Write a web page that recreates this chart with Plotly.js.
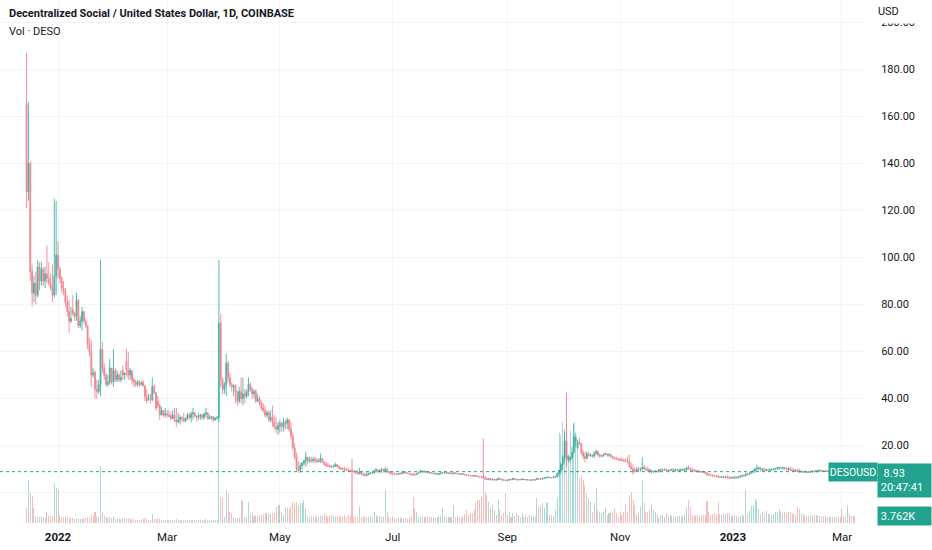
<!DOCTYPE html>
<html>
<head>
<meta charset="utf-8">
<script src="https://cdn.plot.ly/plotly-3.0.1.min.js"></script>
<style>
  html, body { margin: 0; padding: 0; background: #fff; }
  #chart { width: 932px; height: 550px; }
</style>
</head>
<body>
<div id="chart"></div>
<script>
// daily candles, [open, high, low, close, volume (K)]
const dec21 = [[165,187,121,128,8.6],[128,166,124,140,24.7],[140,141,90,94,17.2],[94,97,79,85,15.5],[85,92,81,89,8.6],[89,94,80,84,4.0],[84,99,83,96,3.4],[96,98,86,90,3.4],[90,98,88,95,3.4],[95,96,88,90,3.4],[90,96,87,93,3.0],[93,105,89,91,6.3],[91,98,88,89,4.0],[89,93,86,87,4.0],[87,97,81,84,4.0],[84,125,83,92,23.0],[92,124,84,101,20.0]];
const jan22 = [[101,107,91,95,18.9],[95,96,89,91,4.6],[91,92,85,87,3.4],[87,90,84,86,3.4],[86,87,79,81,3.4],[81,84,75,77,3.4],[77,82,68,73,2.9],[73,79,72,74,2.9],[78,84,75,76,2.9],[76,77,73,75,2.3],[75,85,73,82,2.3],[82,82,70,71,2.9],[71,75,70,73,2.3],[73,79,69,77,2.3],[77,77,72,73,2.9],[73,74,70,71,2.9],[71,71,61,63,2.9],[63,66,58,60,3.4],[60,65,45,50,5.2],[50,53,49,51,4.0],[51,52,40,44,6.3],[44,48,40,43,4.0],[43,48,42,46,3.4],[46,99,41,61,32.7],[61,64,51,53,6.3],[53,55,48,50,4.0],[50,51,45,46,3.4],[46,50,45,47,2.9],[47,57,46,53,3.4],[53,53,46,47,2.9],[47,61,45,52,3.4]];
const feb22 = [[52,53,47,48,2.3],[48,52,47,50,2.3],[50,51,47,48,2.3],[48,52,47,49,2.3],[52,54,48,50,2.9],[50,51,48,51,2.3],[56,61,49,52,2.9],[52,60,48,50,2.9],[50,53,48,52,2.3],[52,52,46,48,2.3],[48,49,45,47,2.3],[47,48,45,46,1.7],[46,48,45,47,1.7],[47,48,45,46,1.7],[46,47.5,45.5,46.5,1.7],[47,48,45,45.5,2.3],[45.5,45.5,39,41,2.9],[41,44,38,39,2.3],[40,42,39,40,1.7],[40,42,38,39.5,1.7],[39.5,49,39,45,5.2],[45,46,42,42.5,2.3],[42.5,42.5,35,36,2.3],[39,41,36,37,2.3],[37,38,31,33,2.3],[33,36.5,33,35,1.7],[35,35,32,33,1.7],[33,36,32,33.5,1.7]];
const mar22 = [[33.5,35,32,33,1.7],[33,35,32,32.5,1.7],[32.5,34,31,31.5,1.7],[31.5,35,31.5,33,1.7],[33,36,30,31,1.7],[31,36,28,30,2.3],[30,34,29.5,31,1.7],[31,33,29,32,1.7],[32,32.5,30,31.5,1.7],[31.5,34,30,30.5,1.7],[30.5,32,30,31.5,1.7],[31.5,34,31,33,1.7],[33,34,31,32,1.7],[32,34.5,30,33.5,1.7],[33.5,36,31,34,1.7],[34,34,32,32.5,1.7],[32.5,33,30,32,1.7],[32,34,31,32.5,1.7],[32.5,33.5,31,33,1.7],[33,33.5,31,32,1.7],[32,34,31,33.5,1.7],[33.5,36,32,34,2.3],[34,34,31,31.5,1.7],[31.5,33,31,32,1.7],[32,32.5,31,32.3,1.7],[32.3,32.5,30,31,1.7],[31,32,30.5,31.8,1.7],[31.8,32.5,31,32,1.7],[32,99,30,72,62],[72,76,45,48,14.9],[48,49,42,44,14.3]];
const apr22 = [[44,47,42,46,3.4],[46,59,41,55,18.9],[55,56,47,49,17.2],[49,51,45,46,6.3],[46,47,43,45,5.7],[45,46,41,45.5,3.4],[45.5,46,38,43,2.9],[43,43.5,37,39,2.9],[39,45,38,43,2.9],[43,49,38,40,13.2],[40,49,37,42,12.6],[42,44,38,41,3.4],[41,44,40,43,3.4],[43,49,41,46,12.0],[46,47,43,44,5.2],[44,45,40,42,5.7],[42,44,40,43,4.0],[43,44,38,39,4.6],[39,42,38.5,40,4.0],[40,41,37,38,4.6],[38,39,35,36,4.6],[36,38,34,35,5.2],[35,37,32,33,5.7],[33,35,32,34,5.7],[34,35,30,31,5.7],[31,35,30,32,5.2],[32,37,28,30,5.7],[30,33,27,28,5.7],[28,32,25.5,27,9.2],[27,30,24.6,28.5,10.3]];
const may22 = [[28.5,31,25.5,29.5,10.3],[29.5,30,26,28,6.3],[28,32,26,30,4.6],[30,31,27,29.5,9.2],[29.5,32,27,31,8.6],[31,31,26,27,8.0],[27,30,22.5,24,9.2],[24,25.5,18,19,12.0],[19,21,14,15,11.5],[15,17,9,10,12.0],[10,13.4,8.5,9.5,10.3],[9.5,12.7,8.5,11.5,11.5],[11.5,13,9.8,12.5,11.5],[12.5,14,11.5,13.5,13.2],[13.5,17.4,11,15,8.6],[15,15.3,11.9,13.5,4.0],[13.5,15.3,12.7,14,3.4],[14,15.3,12.7,13.5,4.0],[13.5,15.3,12.7,14.2,3.4],[14.2,15.3,12.7,13.6,3.4],[13.6,14.9,12.7,13.2,4.0],[13.2,14.5,12.9,13.8,3.4],[13.8,16.6,12.7,14.5,4.0],[14.5,14.9,12.7,13,4.0],[13,13.5,11.5,12,5.7],[12,13.2,11,11.5,4.6],[11.5,12.7,11,11.3,3.4],[11.3,11.9,10.6,11,4.0],[11,11.9,10.6,10.9,4.6],[10.9,11.9,10.6,11.2,4.0],[11.2,12.7,11,12,3.4]];
const jun22 = [[12,12.2,10.6,11,4.0],[11,11.5,9.8,10.3,3.4],[10.3,11,9.8,10.1,4.0],[10.1,10.8,9.7,10,3.4],[10,11,9.3,9.6,4.6],[9.6,10.6,9.2,9.4,3.4],[9.4,10.6,8.9,9.2,4.6],[9.2,9.9,8.8,9.1,4.0],[9.6,14.4,8.5,9.0,28.7],[9.0,9.8,8.5,8.8,3.4],[8.8,9.3,8.1,8.5,4.0],[8.5,9.8,7.6,8.0,3.4],[8.0,10.6,7.9,8.8,9.2],[8.8,8.9,7.6,7.9,3.4],[7.9,8.5,7.2,7.5,4.0],[7.5,8.5,6.8,7.2,3.4],[7.2,8.9,7.2,7.6,3.4],[7.6,8.5,7.6,8.1,3.4],[8.1,8.9,8.1,8.5,4.0],[8.5,8.7,8.1,8.3,3.4],[8.3,9.8,8.3,9.2,6.3],[9.2,10.6,8.5,9.6,4.6],[9.6,9.8,8.5,9.1,3.4],[9.1,9.8,8.5,9.5,4.0],[9.5,10.6,8.5,9.9,3.4],[9.9,10.2,8.5,9.4,3.4],[9.4,11,8.5,10,18.9],[10,10.2,8.5,9.0,6.3],[9.0,9.3,8.1,8.6,3.4],[8.6,8.9,7.6,8.0,2.9]];
const jul22 = [[8.0,8.9,7.6,7.9,3.4],[7.9,8.5,7.6,7.8,2.9],[7.8,8.2,7.5,7.7,2.3],[7.7,8.3,7.6,8.1,2.9],[8.1,8.6,7.8,8.0,2.9],[8.0,8.9,7.9,8.5,2.9],[8.5,8.9,8.1,8.7,2.3],[8.7,8.9,8.1,8.3,2.9],[8.3,8.6,8.0,8.2,2.3],[8.2,8.4,7.8,7.9,2.9],[7.9,8.1,7.4,7.6,3.4],[7.6,8.5,7.2,7.5,14.9],[7.9,8.0,7.2,7.7,8.6],[7.7,8.4,7.5,8.2,6.3],[8.2,8.9,8.1,8.7,3.4],[8.7,9.8,8.5,9.2,3.4],[9.2,9.4,8.5,8.8,4.0],[8.8,9.3,8.5,9.1,3.4],[9.1,9.3,8.5,8.7,3.4],[8.7,9.0,8.3,8.5,4.0],[8.5,8.8,8.1,8.6,3.4],[8.6,8.8,8.0,8.2,3.4],[8.2,8.5,7.9,8.0,2.9],[8.0,8.4,7.8,8.2,2.9],[8.2,8.3,7.6,7.8,3.4],[7.8,8.2,7.5,8.0,3.4],[8.0,8.6,7.9,8.4,4.0],[8.4,8.9,8.2,8.6,8.6],[8.6,8.8,8.2,8.4,3.4],[8.4,8.7,8.2,8.5,3.4],[8.5,8.6,8.0,8.2,3.4]];
const aug22 = [[8.2,8.5,7.9,8.3,3.4],[8.3,8.5,7.8,8.0,3.4],[8.0,8.8,7.9,8.5,10.3],[8.5,8.6,8.0,8.1,3.4],[8.1,8.4,7.8,8.0,4.0],[8.0,8.2,7.7,7.9,3.4],[7.9,8.3,7.7,8.1,2.9],[8.1,8.3,7.7,7.8,4.0],[7.8,8.0,7.4,7.6,5.2],[7.6,7.9,7.2,7.5,7.5],[7.5,7.8,7.2,7.3,4.6],[7.3,7.6,7.0,7.2,5.7],[7.2,7.5,6.9,7.1,5.7],[7.1,7.4,6.9,7.2,7.5],[7.2,7.4,6.8,7.0,11.5],[7.0,7.2,6.6,6.9,13.2],[6.9,7.1,6.5,6.7,13.2],[6.7,7.0,6.4,6.6,14.9],[6.9,23,6.2,6.4,28.7],[6.4,6.8,5.5,5.8,17.8],[5.8,6.4,5.3,5.6,16.1],[5.6,6.2,5.2,5.9,12.0],[5.9,6.1,5.3,5.5,9.2],[5.5,6.0,5.2,5.7,10.3],[5.7,5.9,5.2,5.4,7.5],[5.4,5.8,5.1,5.5,4.6],[5.5,6.4,5.4,6.1,13.2],[6.1,6.2,5.5,5.7,7.5],[5.7,5.9,5.2,5.4,4.6],[5.4,5.7,5.1,5.3,5.7],[5.3,5.6,5.0,5.1,17.2]];
const sep22 = [[5.1,5.6,4.9,5.3,4.6],[5.3,5.8,5.2,5.6,6.3],[5.6,5.9,5.3,5.5,3.4],[5.5,6.4,5.4,6.0,5.7],[6.0,6.2,5.5,5.7,4.0],[5.7,5.9,5.3,5.4,5.7],[5.4,5.8,5.3,5.6,4.6],[5.6,5.8,5.3,5.5,3.4],[5.5,6.0,5.4,5.8,5.2],[5.8,5.9,5.4,5.5,3.4],[5.5,5.8,5.3,5.6,4.6],[5.6,5.7,5.2,5.4,3.4],[5.4,5.6,5.0,5.2,4.6],[5.2,5.6,5.1,5.5,4.0],[5.5,5.7,5.3,5.4,4.0],[5.4,5.6,5.2,5.5,3.4],[5.5,6.4,5.4,6.0,14.3],[6.0,6.3,5.6,5.8,9.2],[5.8,6.1,5.5,5.7,10.3],[5.7,6.3,5.6,6.1,11.5],[6.1,6.4,5.8,6.2,8.6],[6.2,6.6,6.0,6.4,11.5],[6.4,6.8,6.2,6.6,12.0],[6.6,6.8,6.3,6.4,4.6],[6.4,6.6,6.2,6.3,4.6],[6.3,6.9,6.2,6.7,4.0],[6.7,7.2,6.4,6.9,7.5],[6.9,8.5,6.5,8.2,14.3],[8.2,9.8,6.8,9.5,51.6],[9.5,12.7,8,12,50.5]];
const oct22 = [[12,16,9.8,15,57.9],[15,26,12.7,22,54],[22,42.5,11,14,57],[14,16,13,15.5,36],[14,15.3,13,15,53],[15,19.5,14,17,40.7],[17,29.7,17,24,57],[22,25.5,19.5,23.5,49],[19,22.5,18.3,21.5,42],[21.5,23.4,20.4,21,26],[21,21,16,17,27.5],[17,18.3,14,15.5,24.7],[15.5,17.4,13,14.5,21.8],[14.5,17.4,14.5,16.5,17.2],[16.5,17.4,15.3,15.8,14.3],[15.8,16.6,15.3,16,12],[16,16.2,14.9,15.5,6.3],[15.5,17.4,14.9,16.8,11.5],[16.8,18.3,16,17.5,20],[17.5,17.6,15.3,16,7.5],[16,16.6,14.9,15.5,6.3],[15.5,16.1,15.3,15.6,5.7],[15.6,16.6,15.3,16.2,6.3],[16.2,17,16,16.6,8.6],[16.6,16.6,15.3,16.0,4.6],[16,16.6,15.3,16.3,5.7],[16.3,16.3,14.9,15.3,6.3],[15.3,15.7,14.4,14.9,5.7],[14.9,15.3,14,14.5,8.6],[14.5,15.3,14,14.2,5.7],[14.2,14.9,13.6,14,3.4]];
const nov22 = [[14,14.9,13.6,13.9,6.3],[13.9,14.9,13.2,13.7,4.6],[13.7,14.4,13.2,13.5,6.3],[13.5,14.4,13.2,13.4,10.9],[13.4,15.3,12.7,13,6.3],[13,16,10.6,11,16.1],[11,12.7,9.8,10.2,17.8],[10.2,11.9,7.6,8.8,13.2],[9.6,10.6,8.5,9.2,10.3],[9.2,11,8.9,10.0,4.6],[10,11,9.3,9.8,6.3],[9.8,10.6,8.9,10.2,9.2],[10.2,15,9.3,10.8,24.7],[10.8,11.9,9.8,10.0,11.5],[10,11,9.3,9.7,6.3],[10.1,11,8.9,9.4,6.3],[9.0,10.2,8.5,9.6,7.5],[9.6,9.8,8.1,8.8,10.9],[8.8,9.3,8.5,9.0,7.5],[9.0,9.5,8.6,9.2,6.3],[9.2,9.6,8.7,8.9,4.6],[8.9,10.2,8.5,9.6,2.9],[9.6,10.2,9.1,9.8,4.0],[9.8,10.0,9.2,9.5,4.6],[9.5,10.2,9.2,9.9,3.4],[9.9,10.2,9.3,9.6,5.7],[9.6,9.9,9.1,9.4,4.0],[9.4,9.8,9.0,9.6,4.6],[9.6,10.2,9.3,9.9,4.0],[9.9,10.1,9.2,9.5,3.4]];
const dec22 = [[9.5,10.2,8.9,9.8,4.0],[9.8,10.0,9.1,9.4,4.0],[9.4,10.2,8.9,9.5,4.0],[9.5,10.3,9.2,9.9,3.4],[9.9,10.2,9.3,9.6,4.0],[9.6,10.2,9.3,9.9,4.6],[9.9,11,8.9,10.6,9.2],[10.6,11.5,9.8,10.1,13.2],[10.1,11,9.3,9.7,9.2],[9.7,10.6,8.9,9.5,4.6],[9.5,10.1,8.9,9.3,4.0],[9.3,9.8,8.7,9.1,4.6],[9.1,9.8,8.5,8.9,4.6],[8.9,9.5,8.5,9.0,4.0],[9.0,9.3,8.5,8.8,4.6],[8.8,9.3,8.4,8.6,4.6],[8.6,8.9,8.0,8.3,4.6],[8.3,8.9,7.2,7.6,12.6],[7.6,8.2,7.2,7.5,6.3],[7.5,8.1,7.0,7.4,4.6],[7.4,7.8,6.9,7.2,5.2],[7.2,7.6,6.8,7.0,5.7],[7.0,7.5,6.7,6.9,5.2],[6.9,7.6,6.4,6.7,12.0],[6.7,7.1,6.3,6.6,5.2],[6.6,7.2,6.2,6.8,4.6],[6.8,7.0,6.1,6.4,5.7],[6.4,7.2,6.0,6.5,5.2],[6.5,7.6,6.0,6.3,5.7],[6.3,7.2,5.9,6.2,5.7],[6.2,6.8,5.9,6.4,4.0]];
const jan23 = [[6.4,7.0,6.0,6.2,4.0],[6.2,7.2,5.9,6.5,4.6],[6.5,7.0,6.0,6.3,4.0],[6.3,7.2,6.1,6.8,3.4],[6.8,7.3,6.4,7.0,4.0],[7.0,7.6,6.5,7.3,5.2],[7.3,7.8,6.8,7.2,4.0],[7.2,8.5,6.9,8.0,18.9],[8.0,8.5,7.4,7.8,5.2],[7.8,8.6,7.5,8.3,6.9],[8.3,9.2,7.9,8.8,9.8],[8.8,9.8,8.3,9.3,10.3],[9.3,10.6,8.5,10.2,13.8],[10.2,12,8.9,10.4,12.6],[10.4,11,9.6,10.6,8.0],[10.6,10.6,8.9,9.7,5.2],[9.7,10.4,9.2,10.0,6.3],[10.0,10.6,9.1,9.5,5.7],[9.5,10.1,9.0,9.7,6.9],[9.7,10.2,9.2,9.6,5.2],[9.6,10.2,8.9,9.8,5.2],[9.8,10.2,9.3,9.9,4.6],[9.9,10.4,9.4,10.1,5.2],[10.1,10.6,9.5,10.2,6.3],[10.2,10.8,9.6,10.5,6.3],[10.5,11.0,9.8,10.7,8.0],[10.7,11.0,10.0,10.4,6.3],[10.4,11.0,9.8,10.6,5.2],[10.6,11.0,9.8,10.2,6.3],[10.2,10.8,9.5,9.9,5.2],[9.9,11.0,9.3,10.0,6.3]];
const feb23 = [[10.0,11.0,9.3,9.6,6.3],[9.6,10.6,9.0,9.4,5.2],[9.4,10.6,8.9,9.2,5.7],[9.2,10.0,8.8,9.4,4.6],[9.4,10.2,8.7,9.0,9.2],[9.0,10.2,8.5,8.8,8.0],[8.8,9.6,8.5,9.0,5.2],[9.0,9.4,8.5,8.8,5.2],[8.8,9.3,8.5,8.7,4.6],[8.7,9.2,8.4,8.6,4.0],[8.6,9.2,8.5,8.9,4.0],[8.9,9.3,8.5,8.8,4.0],[8.8,9.4,8.5,9.1,4.6],[9.1,9.6,8.6,9.0,4.6],[9.0,9.8,8.6,9.3,4.6],[9.3,9.8,8.5,9.2,4.6],[9.2,9.8,8.9,9.5,4.0],[9.5,9.7,8.9,9.2,4.0],[9.2,9.6,8.8,9.0,4.0],[9.0,9.5,8.8,9.3,4.0],[9.3,9.6,8.9,9.1,3.4],[9.1,9.4,8.7,8.9,3.4],[8.9,9.3,8.6,9.0,3.4],[9.0,9.4,8.7,8.8,3.4],[8.8,9.2,8.6,9.0,3.4],[9.0,9.3,8.7,8.9,3.4],[8.9,9.3,8.6,9.1,4.0],[9.1,9.4,8.8,9.0,3.4]];
const mar23 = [[9.2,9.5,8.8,9.0,8.0],[9.0,9.3,8.7,8.9,4.0],[8.9,9.2,8.6,8.8,3.4],[8.8,9.5,8.7,9.2,10.3],[9.2,9.4,8.8,9.0,5.2],[9.0,9.2,8.8,8.95,4.0],[8.95,9.3,8.8,9.1,4.0],[9.1,9.2,8.8,8.93,3.762]];

const firstDay = Date.UTC(2021, 11, 15);
const tickDates = ['2022-01-01','2022-03-01','2022-05-01','2022-07-01','2022-09-01','2022-11-01','2023-01-01','2023-03-01'];
const tickNames = ['<b>2022</b>','Mar','May','Jul','Sep','Nov','<b>2023</b>','Mar'];
const priceTicks = [0,20,40,60,80,100,120,140,160,180,200];
const lastPrice = 8.93;
const lastVolume = 3.762;

const rows = [].concat(dec21, jan22, feb22, mar22, apr22, may22, jun22, jul22, aug22, sep22, oct22, nov22, dec22, jan23, feb23, mar23);
const dates = rows.map((r, i) => new Date(firstDay + i * 864e5).toISOString().slice(0, 10));
const open = rows.map(r => r[0]);
const high = rows.map(r => r[1]);
const low = rows.map(r => r[2]);
const close = rows.map(r => r[3]);
const volume = rows.map(r => r[4]);

const UP = '#45b3a7', DOWN = '#f0848e';
const volColors = rows.map(r => r[3] >= r[0] ? 'rgba(38,166,154,0.4)' : 'rgba(239,83,80,0.38)');

// plot area is 865 x 523 px; helpers turn pixel spots into paper coords
const PW = 865, PH = 523;
const px = x => x / PW;
const py = y => (PH - y) / PH;

const font = 'Roboto, "Liberation Sans", sans-serif';
const ink = '#131722';
const teal = '#22a38f';

const traces = [
  {
    type: 'bar', x: dates, y: volume, yaxis: 'y2',
    marker: { color: volColors, line: { width: 0 } },
    width: 864e5 * 0.55, hoverinfo: 'skip'
  },
  {
    type: 'candlestick', x: dates, open: open, high: high, low: low, close: close,
    increasing: { line: { color: UP, width: 0.9 }, fillcolor: UP },
    decreasing: { line: { color: DOWN, width: 0.9 }, fillcolor: DOWN },
    whiskerwidth: 0
  }
];

const layout = {
  width: 932, height: 550,
  margin: { l: 0, r: 67, t: 0, b: 27 },
  paper_bgcolor: '#ffffff', plot_bgcolor: '#ffffff',
  showlegend: false, bargap: 0,
  xaxis: {
    type: 'date', range: ['2021-11-30 15:00', '2023-03-13 11:00'],
    rangeslider: { visible: false },
    tickvals: tickDates, ticktext: tickNames,
    ticks: 'outside', ticklen: 3, tickcolor: 'rgba(0,0,0,0)',
    tickfont: { family: font, size: 11.5, color: ink },
    showgrid: true, gridcolor: '#f3f4f7', zeroline: false, showline: false
  },
  yaxis: {
    side: 'right', range: [-12.9, 209.5],
    tickvals: priceTicks, ticktext: priceTicks.map(v => v.toFixed(2)),
    ticks: 'outside', ticklen: 13, tickcolor: 'rgba(0,0,0,0)',
    tickfont: { family: font, size: 11, color: ink },
    showgrid: true, gridcolor: '#f3f4f7', zeroline: false, showline: false
  },
  yaxis2: { overlaying: 'y', range: [0, 300], visible: false },
  shapes: [
    { type: 'line', xref: 'paper', yref: 'y', x0: 0, x1: 1, y0: lastPrice, y1: lastPrice,
      line: { color: teal, width: 1, dash: 'dot' } }
  ],
  annotations: [
    { xref: 'paper', yref: 'paper', x: px(7), y: py(14), xanchor: 'left', yanchor: 'middle', showarrow: false,
      text: '<b>Decentralized Social / United States Dollar, 1D, COINBASE</b>', font: { family: font, size: 11, color: ink } },
    { xref: 'paper', yref: 'paper', x: px(7), y: py(31), xanchor: 'left', yanchor: 'middle', showarrow: false,
      text: 'Vol · DESO', font: { family: font, size: 11, color: ink } },
    { xref: 'paper', yref: 'paper', x: px(866), y: py(11), xanchor: 'left', yanchor: 'middle', showarrow: false,
      text: '    USD', width: 66, height: 24, align: 'left', bgcolor: '#ffffff', borderpad: 0,
      font: { family: font, size: 11, color: ink } },
    { xref: 'paper', yref: 'y', x: px(828), y: lastPrice, xanchor: 'left', yanchor: 'middle', showarrow: false,
      text: 'DESOUSD', width: 48, height: 18, align: 'center', bgcolor: teal, borderpad: 0,
      font: { family: font, size: 10.5, color: '#ffffff' } },
    { xref: 'paper', yref: 'paper', x: px(877), y: py(480), xanchor: 'left', yanchor: 'middle', showarrow: false,
      text: '  ' + lastPrice.toFixed(2) + '<br> 20:47:41', width: 53, height: 33, align: 'left', bgcolor: teal, borderpad: 0,
      font: { family: font, size: 11, color: '#ffffff' } },
    { xref: 'paper', yref: 'y2', x: px(877), y: lastVolume, xanchor: 'left', yanchor: 'middle', showarrow: false,
      text: ' ' + lastVolume.toFixed(3) + 'K', width: 53, height: 18, align: 'left', bgcolor: teal, borderpad: 0,
      font: { family: font, size: 11, color: '#ffffff' } }
  ]
};

Plotly.newPlot('chart', traces, layout, { displayModeBar: false, staticPlot: true });
</script>
</body>
</html>
